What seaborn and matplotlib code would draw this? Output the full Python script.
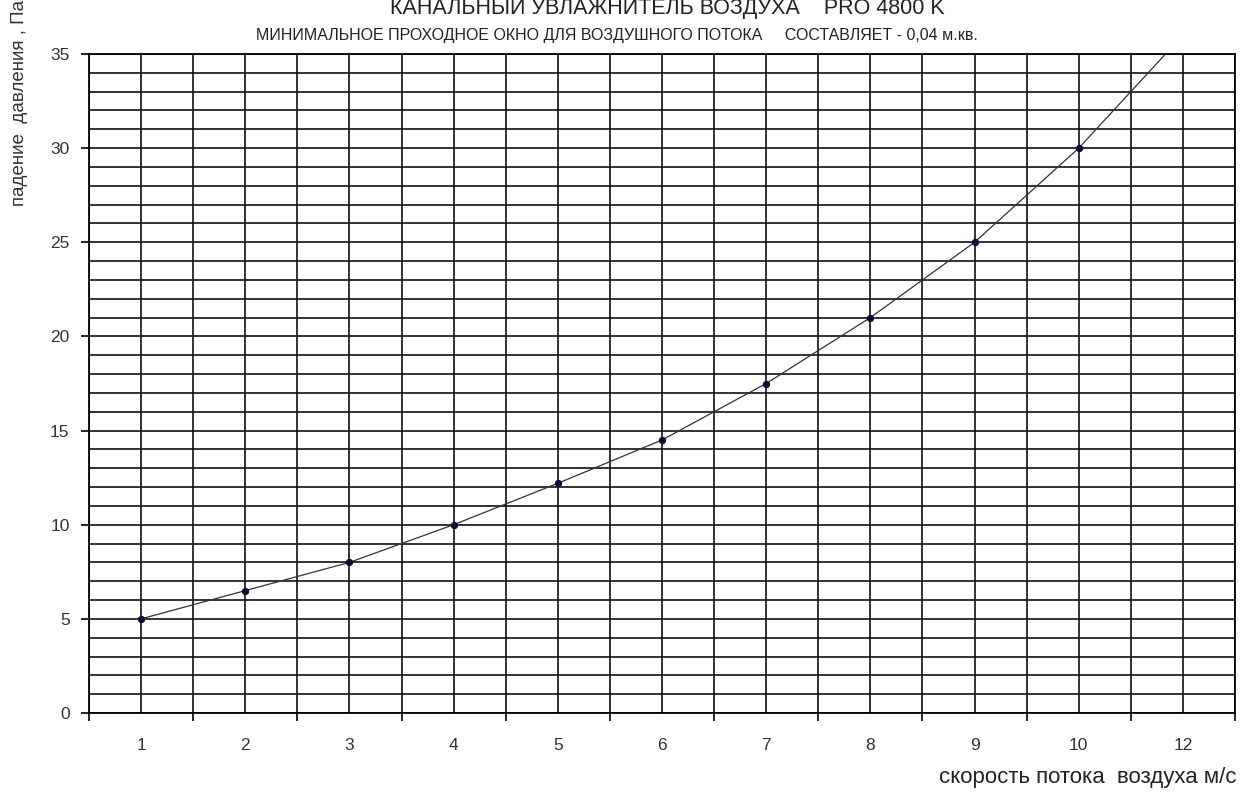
import numpy as np
import pandas as pd
import matplotlib
matplotlib.use("Agg")
import matplotlib.pyplot as plt
from matplotlib.ticker import MultipleLocator, FixedLocator
import seaborn as sns

# categories on the x axis (Excel-style category axis)
speed_labels = ["1", "2", "3", "4", "5", "6", "7", "8", "9", "10", "12"]
pressure_drop = [5.0, 6.5, 8.0, 10.0, 12.2, 14.5, 17.5, 21.0, 25.0, 30.0, 36.0]

TITLE = "КАНАЛЬНЫЙ УВЛАЖНИТЕЛЬ ВОЗДУХА    PRO 4800 K"
SUBTITLE = "МИНИМАЛЬНОЕ ПРОХОДНОЕ ОКНО ДЛЯ ВОЗДУШНОГО ПОТОКА     СОСТАВЛЯЕТ - 0,04 м.кв."

sns.set_theme(style="white")
plt.rcParams["font.family"] = ["Liberation Sans", "DejaVu Sans"]

df = pd.DataFrame({"pos": np.arange(len(speed_labels)), "dp": pressure_drop})

fig = plt.figure(figsize=(12.54, 7.98), dpi=100)
ax = fig.add_axes([89 / 1254, 85 / 798, 1146 / 1254, 659 / 798])

sns.lineplot(ax=ax, data=df, x="pos", y="dp", color="#333333", linewidth=0.9,
             marker="o", markersize=4.5, markerfacecolor="#0a0a3a",
             markeredgecolor="#0a0a3a", zorder=5)

ax.set_xlim(-0.5, len(speed_labels) - 0.5)
ax.set_ylim(0, 35)

# x: labels at category centres, tick marks at boundaries
ax.set_xticks(df["pos"])
ax.set_xticklabels(speed_labels)
ax.xaxis.set_minor_locator(FixedLocator(np.arange(-0.5, len(speed_labels), 1.0)))
ax.yaxis.set_major_locator(MultipleLocator(5))
ax.yaxis.set_minor_locator(MultipleLocator(1))

ax.tick_params(axis="x", which="major", length=0, pad=18, labelsize=12.5, colors="#333333")
ax.tick_params(axis="x", which="minor", length=6, width=1.2, direction="out", color="black", bottom=True)
ax.tick_params(axis="y", which="major", length=6, width=1.2, direction="out", color="black",
               left=True, labelsize=12.5, labelcolor="#333333", pad=8)
ax.tick_params(axis="y", which="minor", length=0)

ax.grid(True, which="both", color="#111111", linewidth=1.2)
ax.set_axisbelow(True)
for side in ["left", "bottom", "right", "top"]:
    ax.spines[side].set_color("black")
    ax.spines[side].set_linewidth(1.3)

ax.set_xlabel("")
ax.set_ylabel("")

fig.text(0.986, 0.012, "скорость потока  воздуха м/с", ha="right", va="bottom",
         fontsize=16, color="#222222")
fig.text(0.009, 1.0, "падение  давления , Па", rotation=90, ha="left", va="top",
         fontsize=13.5, color="#333333")
fig.text(0.532, 0.992, TITLE, ha="center", va="center", fontsize=15.5, color="#222222")
fig.text(0.492, 0.955, SUBTITLE, ha="center", va="center", fontsize=11.5,
         color="#222222")

fig.savefig("out.png", dpi=100)
